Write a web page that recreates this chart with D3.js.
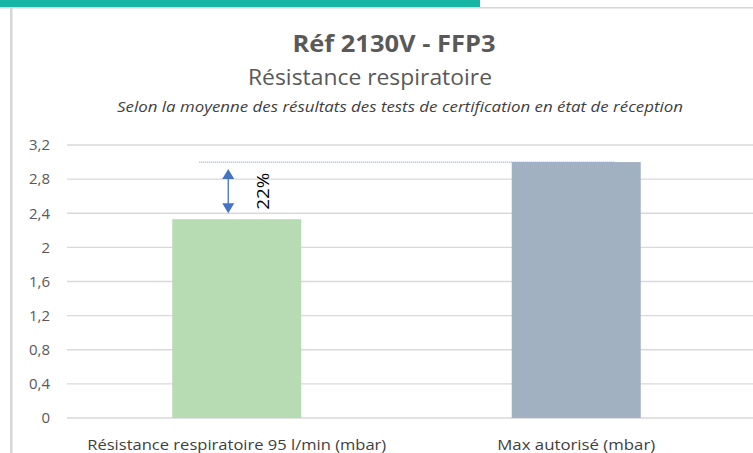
<!DOCTYPE html>
<html>
<head>
<meta charset="utf-8">
<script src="https://cdn.jsdelivr.net/npm/d3@7"></script>
<style>
  body { margin: 0; background: #fff; }
  svg { display: block; font-family: "Open Sans", sans-serif; }
</style>
</head>
<body>
<div id="chart"></div>
<script>
// chart values
const categories = ['Résistance respiratoire 95 l/min (mbar)', 'Max autorisé (mbar)']
const values = [2.33, 3.0]
const barColors = ['#b7dbb3', '#a2b1c2']
const yTicks = [0, 0.4, 0.8, 1.2, 1.6, 2, 2.4, 2.8, 3.2]
const gapLabel = '22%'

const width = 753, height = 453
const svg = d3.select('#chart').append('svg').attr('width', width).attr('height', height)

// top decoration of the page
svg.append('rect').attr('x', 0).attr('y', 7).attr('width', width).attr('height', 1.5).attr('fill', '#d6d6d6')
svg.append('rect').attr('x', 0).attr('y', 0).attr('width', 480).attr('height', 7).attr('fill', '#17b6a4')
svg.append('rect').attr('x', 10).attr('y', 8).attr('width', 2.5).attr('height', height).attr('fill', '#d6d6d6')

// titles
svg.append('text').attr('x', 394).attr('y', 52).attr('text-anchor', 'middle')
  .attr('font-size', 23).attr('font-weight', 'bold').attr('fill', '#595959')
  .attr('textLength', 203).attr('lengthAdjust', 'spacingAndGlyphs').text('Réf 2130V - FFP3')
svg.append('text').attr('x', 370).attr('y', 85).attr('text-anchor', 'middle')
  .attr('font-size', 21).attr('fill', '#595959')
  .attr('textLength', 244).attr('lengthAdjust', 'spacingAndGlyphs').text('Résistance respiratoire')
svg.append('text').attr('x', 400).attr('y', 112).attr('text-anchor', 'middle')
  .attr('font-size', 14).attr('font-style', 'italic').attr('fill', '#404040')
  .attr('textLength', 566).attr('lengthAdjust', 'spacingAndGlyphs')
  .text('Selon la moyenne des résultats des tests de certification en état de réception')

// scales
const x = d3.scaleBand().domain(categories).range([67, 746]).paddingInner(0.62).paddingOuter(0.31)
const y = d3.scaleLinear().domain([0, 3.2]).range([418, 145])

// gridlines
svg.append('g').selectAll('line').data(yTicks).enter().append('line')
  .attr('x1', 67).attr('x2', width).attr('y1', d => y(d)).attr('y2', d => y(d))
  .attr('stroke', '#d9d9d9').attr('stroke-width', 1.3)

// y axis labels
const yAxis = svg.append('g').attr('transform', 'translate(50,0)')
  .call(d3.axisLeft(y).tickValues(yTicks).tickSize(0).tickPadding(0)
    .tickFormat(d => String(d).replace('.', ',')))
yAxis.select('.domain').remove()
yAxis.selectAll('text').attr('font-size', 15).attr('fill', '#595959').style('font-family', 'Open Sans')

// bars
svg.append('g').selectAll('rect').data(values).enter().append('rect')
  .attr('x', (d, i) => x(categories[i])).attr('width', x.bandwidth())
  .attr('y', d => y(d)).attr('height', d => y(0) - y(d))
  .attr('fill', (d, i) => barColors[i])

// x axis labels
const labelWidths = [299, 158]
const xAxis = svg.append('g').attr('transform', 'translate(0,' + (y(0) + 10) + ')')
  .call(d3.axisBottom(x).tickSize(0).tickPadding(12))
xAxis.select('.domain').remove()
xAxis.selectAll('text').attr('font-size', 14).attr('fill', '#404040').style('font-family', 'Open Sans')
  .attr('textLength', (d, i) => labelWidths[i]).attr('lengthAdjust', 'spacingAndGlyphs')

// dotted reference line at max value
const lineX1 = x(categories[0]) + 27, lineX2 = x(categories[1]) + 103
svg.append('line').attr('x1', lineX1).attr('x2', lineX2)
  .attr('y1', y(values[1])).attr('y2', y(values[1]))
  .attr('stroke', '#8faadc').attr('stroke-width', 1.2).attr('stroke-dasharray', '1,1')

// double arrow between the two values
const ax = x(categories[0]) + 56
const yTop = y(values[1]) + 7, yBot = y(values[0]) - 6
svg.append('line').attr('x1', ax).attr('x2', ax).attr('y1', yTop + 8).attr('y2', yBot - 8)
  .attr('stroke', '#4472c4').attr('stroke-width', 1.3)
svg.append('path').attr('d', `M${ax},${yTop} L${ax - 6},${yTop + 10} L${ax + 6},${yTop + 10} Z`).attr('fill', '#4472c4')
svg.append('path').attr('d', `M${ax},${yBot} L${ax - 6},${yBot - 10} L${ax + 6},${yBot - 10} Z`).attr('fill', '#4472c4')

svg.append('text').attr('transform', `translate(${ax + 41},${(yTop + yBot) / 2}) rotate(-90)`)
  .attr('text-anchor', 'middle').attr('font-size', 16).attr('fill', '#000')
  .attr('textLength', 37).attr('lengthAdjust', 'spacingAndGlyphs').text(gapLabel)
</script>
</body>
</html>
